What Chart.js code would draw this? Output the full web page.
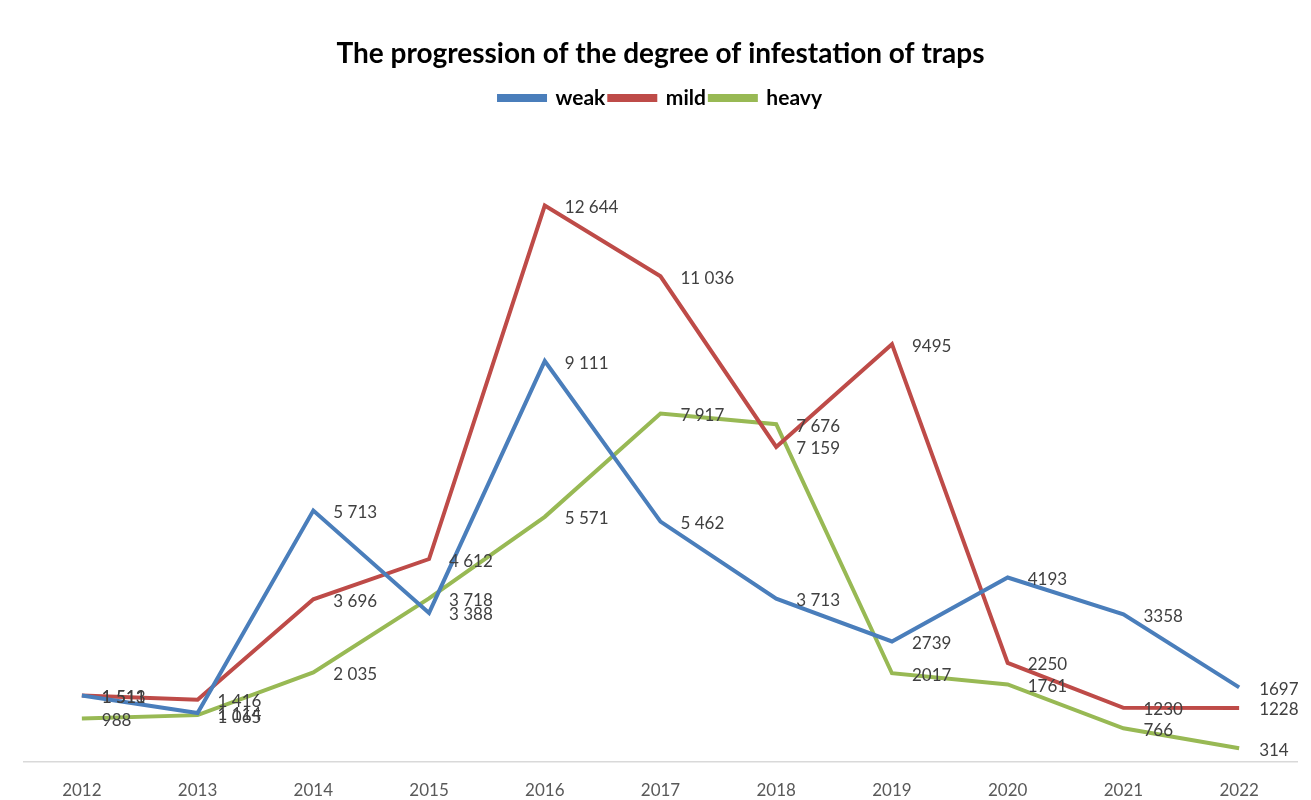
<!DOCTYPE html>
<html>
<head>
<meta charset="utf-8">
<script src="https://cdn.jsdelivr.net/npm/chart.js@4.4.1/dist/chart.umd.min.js"></script>
<style>
html,body{margin:0;padding:0;background:#fff;}
#wrap{width:1311px;height:800px;position:relative;}
</style>
</head>
<body>
<div id="wrap"><canvas id="c" width="1311" height="800"></canvas></div>
<script>
const years = ['2012','2013','2014','2015','2016','2017','2018','2019','2020','2021','2022'];
const weak  = [1513, 1114, 5713, 3388, 9111, 5462, 3713, 2739, 4193, 3358, 1697];
const mild  = [1511, 1416, 3696, 4612, 12644, 11036, 7159, 9495, 2250, 1230, 1228];
const heavy = [988, 1065, 2035, 3718, 5571, 7917, 7676, 2017, 1761, 766, 314];
// years up to this index show a space as the thousands separator
const spacedUntil = 6;

function fmt(v, i) {
  const s = String(v);
  if (i > spacedUntil) return s;
  return s.replace(/\B(?=(\d{3})+(?!\d))/g, ' ');
}

const labelPlugin = {
  id: 'pointLabels',
  afterDatasetsDraw(chart) {
    const ctx = chart.ctx;
    ctx.save();
    ctx.font = '17px Lato, "Open Sans", sans-serif';
    ctx.fillStyle = '#404040';
    ctx.textAlign = 'left';
    ctx.textBaseline = 'middle';
    chart.data.datasets.forEach((ds, di) => {
      const meta = chart.getDatasetMeta(di);
      meta.data.forEach((pt, i) => {
        ctx.fillText(fmt(ds.data[i], i), pt.x + 20, pt.y + 2);
      });
    });
    ctx.restore();
  }
};

new Chart(document.getElementById('c'), {
  type: 'line',
  data: {
    labels: years,
    datasets: [
      { label: 'weak', data: weak, borderColor: '#4a7ebb', backgroundColor: '#4a7ebb' },
      { label: 'mild', data: mild, borderColor: '#be4b48', backgroundColor: '#be4b48' },
      { label: 'heavy', data: heavy, borderColor: '#98b954', backgroundColor: '#98b954' }
    ]
  },
  options: {
    responsive: false,
    animation: false,
    devicePixelRatio: 1,
    elements: {
      line: { borderWidth: 4, tension: 0, borderJoinStyle: 'miter' },
      point: { radius: 0, hoverRadius: 0 }
    },
    layout: { padding: { left: 24, right: 14, top: 0, bottom: 0 } },
    plugins: {
      title: {
        display: true,
        text: 'The progression of the degree of infestation of traps',
        color: '#000',
        font: { family: 'Lato, "Open Sans", sans-serif', size: 28, weight: 'bold' },
        padding: { top: 37, bottom: 13 }
      },
      legend: {
        display: true,
        labels: {
          boxWidth: 46,
          boxHeight: 4,
          color: '#000',
          font: { family: 'Lato, "Open Sans", sans-serif', size: 21, weight: 'bold' },
          padding: 4
        }
      },
      tooltip: { enabled: false }
    },
    scales: {
      x: {
        offset: true,
        grid: { display: false, drawTicks: false },
        border: { display: true, color: '#d9d9d9', width: 1.5 },
        ticks: {
          color: '#595959',
          font: { family: 'Lato, "Open Sans", sans-serif', size: 17 },
          padding: 18
        },
        afterFit(scale) { scale.height = 38; }
      },
      y: {
        display: false,
        min: 0,
        max: 14620
      }
    }
  },
  plugins: [labelPlugin]
});
</script>
</body>
</html>
